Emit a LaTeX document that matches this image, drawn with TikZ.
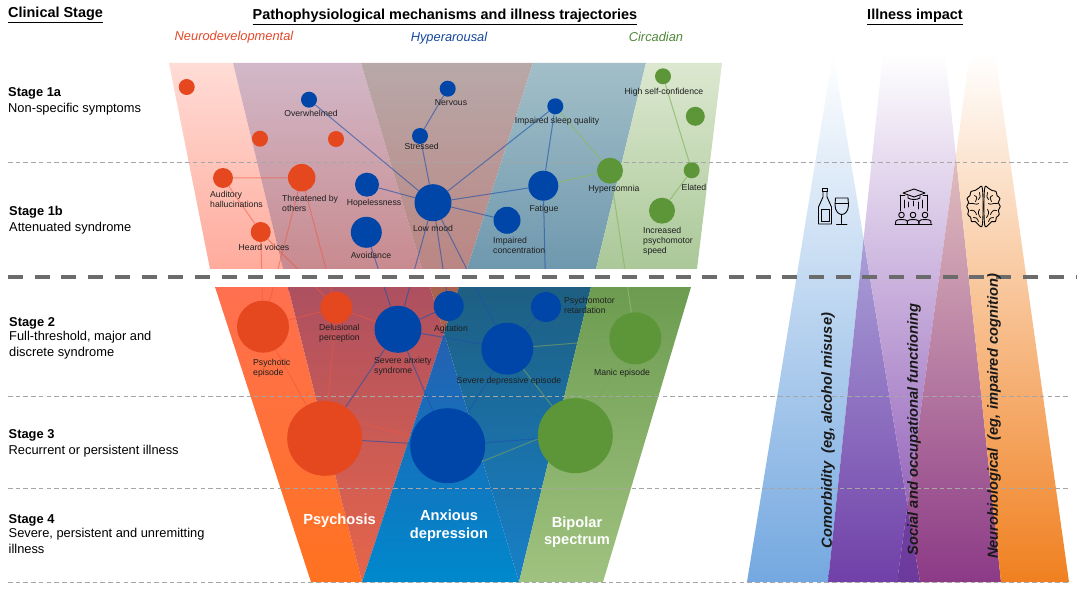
\documentclass[tikz,border=0pt]{standalone}
\usepackage{fontspec}
\setmainfont{Liberation Sans}
\definecolor{cR}{HTML}{E5471F}
\definecolor{cB}{HTML}{0046A8}
\definecolor{cG}{HTML}{5C9638}
\tikzset{
  dot/.style={circle,inner sep=0pt,draw=none},
  rdot/.style={dot,fill=cR},
  bdot/.style={dot,fill=cB},
  gdot/.style={dot,fill=cG},
  lab/.style={inner sep=0pt,text=black!88,font=\fontsize{8.7}{10}\selectfont},
  labl/.style={lab,anchor=west,align=left},
  stagehead/.style={inner sep=0pt,anchor=base west,font=\fontsize{12.9}{15}\selectfont\bfseries},
  stagetext/.style={inner sep=0pt,anchor=base west,font=\fontsize{12.9}{15.6}\selectfont,align=left},
  head/.style={inner sep=0pt,anchor=base,font=\fontsize{14.5}{16}\selectfont\bfseries},
  mech/.style={inner sep=0pt,font=\fontsize{12.9}{14}\selectfont\itshape},
  dis/.style={inner sep=0pt,text=white,align=center,font=\fontsize{14.7}{17.5}\selectfont\bfseries},
  imp/.style={inner sep=0pt,rotate=90,font=\fontsize{14.7}{16}\selectfont\bfseries\itshape,text=black!90},
  thin dash/.style={draw=black!35,line width=1bp,dash pattern=on 4.6bp off 3.1bp},
  thick dash/.style={draw=black!58,line width=3.6bp,dash pattern=on 15bp off 11.7bp},
  redge/.style={draw={rgb,255:red,238;green,88;blue,64},opacity=.55,line width=1bp},
  bedge/.style={draw={rgb,255:red,30;green,80;blue,170},opacity=.62,line width=1bp},
  gedge/.style={draw={rgb,255:red,140;green,185;blue,105},opacity=.8,line width=1bp},
  lgedge/.style={draw={rgb,255:red,125;green,165;blue,95},opacity=.6,line width=1bp},
  icon/.style={draw=black,line width=.9bp,line join=round,line cap=round},
  icon2/.style={draw=black,line width=.6bp,line cap=round},
}
\begin{document}
\begin{tikzpicture}[x=1bp,y=-1bp]
\useasboundingbox (0,0) rectangle (1084,592);
% upper band regions
\shade[top color={rgb,255:red,255;green,220;blue,214},bottom color={rgb,255:red,255;green,171;blue,156}] (169,63)--(233,63)--(283,269)--(210,269)--cycle;
\shade[top color={rgb,255:red,210;green,184;blue,200},bottom color={rgb,255:red,200;green,138;blue,143}] (233,63)--(361,63)--(422,269)--(283,269)--cycle;
\shade[top color={rgb,255:red,184;green,168;blue,168},bottom color={rgb,255:red,186;green,134;blue,131}] (361,63)--(533,63)--(467,269)--(422,269)--cycle;
\shade[top color={rgb,255:red,162;green,191;blue,200},bottom color={rgb,255:red,111;green,152;blue,174}] (533,63)--(646,63)--(596,269)--(467,269)--cycle;
\shade[top color={rgb,255:red,220;green,232;blue,208},bottom color={rgb,255:red,170;green,200;blue,152}] (646,63)--(722,63)--(697,269)--(596,269)--cycle;
% lower band regions
\shade[top color={rgb,255:red,255;green,112;blue,80},middle color={rgb,255:red,255;green,90;blue,46},bottom color={rgb,255:red,255;green,114;blue,32}] (215,287)--(288,287)--(362,582)--(311,582)--cycle;
\shade[top color={rgb,255:red,173;green,80;blue,96},middle color={rgb,255:red,206;green,76;blue,72},bottom color={rgb,255:red,230;green,101;blue,74}] (288,287)--(430,287)--(444,333)--(362,582)--cycle;
\fill[color={rgb,255:red,168;green,99;blue,79}] (430,287)--(459,287)--(444,333)--cycle;
\shade[top color={rgb,255:red,37;green,96;blue,176},bottom color={rgb,255:red,0;green,136;blue,204}] (444,333)--(519,582)--(362,582)--cycle;
\shade[top color={rgb,255:red,30;green,95;blue,130},middle color={rgb,255:red,30;green,95;blue,144},bottom color={rgb,255:red,23;green,128;blue,200}] (444,333)--(459,287)--(591,287)--(519,582)--cycle;
\shade[top color={rgb,255:red,108;green,156;blue,80},middle color={rgb,255:red,111;green,160;blue,85},bottom color={rgb,255:red,160;green,194;blue,128}] (591,287)--(691,287)--(603,582)--(519,582)--cycle;
% impact regions
\shade[top color=white,bottom color={rgb,255:red,116;green,168;blue,224}] (833,53)--(747,582)--(828,582)--(863.6,239)--cycle;
\shade[top color={rgb,255:red,170;green,160;blue,216},middle color={rgb,255:red,125;green,90;blue,180},bottom color={rgb,255:red,112;green,64;blue,168}] (863.6,239)--(828,582)--(897,582)--(907.5,506)--cycle;
\shade[top color={rgb,255:red,112;green,64;blue,160},bottom color={rgb,255:red,108;green,58;blue,156}] (907.5,506)--(897,582)--(920,582)--cycle;
\shade[top color=white,bottom color={rgb,255:red,151;green,103;blue,188}] (883,53)--(945,53)--(955.9,155.6)--(907.5,506)--(863.6,239)--cycle;
\shade[top color={rgb,255:red,225;green,190;blue,190},middle color={rgb,255:red,170;green,95;blue,140},bottom color={rgb,255:red,140;green,58;blue,134}] (955.9,155.6)--(907.5,506)--(920,582)--(1001,582)--cycle;
\shade[top color=white,bottom color={rgb,255:red,240;green,128;blue,32}] (970,53)--(995,53)--(1069,582)--(1001,582)--(955.9,155.6)--cycle;
% thin dashed rules
\coordinate (d1a) at (8,163); \coordinate (d1b) at (1070,163);
\coordinate (d2a) at (8,396); \coordinate (d2b) at (1070,396);
\coordinate (d3a) at (8,488); \coordinate (d3b) at (1070,488);
\coordinate (d4a) at (8,582); \coordinate (d4b) at (1070,582);
\draw[thin dash] (d1a)--(d1b);
\draw[thin dash] (d2a)--(d2b);
\draw[thin dash] (d3a)--(d3b);
\draw[thin dash] (d4a)--(d4b);
% circles
\node[rdot,minimum size=16bp] (r1) at (186.7,87) {};
\node[bdot,minimum size=16bp] (over) at (309,99.7) {};
\node[rdot,minimum size=16bp] (r2) at (260,138.7) {};
\node[rdot,minimum size=16bp] (r3) at (336,139) {};
\node[bdot,minimum size=16bp] (stress) at (420,136) {};
\node[bdot,minimum size=16bp] (nerv) at (447.7,88.7) {};
\node[rdot,minimum size=20bp] (aud) at (223,178) {};
\node[rdot,minimum size=27.5bp] (threat) at (301.7,177.7) {};
\node[bdot,minimum size=24bp] (hope) at (367,184.7) {};
\node[bdot,minimum size=31bp] (avoid) at (366.3,232.3) {};
\node[bdot,minimum size=37bp] (low) at (433,202.7) {};
\node[rdot,minimum size=20bp] (heard) at (260.7,232) {};
\node[bdot,minimum size=16bp] (sleep) at (555.3,106.3) {};
\node[gdot,minimum size=16bp] (high) at (663,76.3) {};
\node[gdot,minimum size=19bp] (g2) at (695.3,116.3) {};
\node[gdot,minimum size=26bp] (hyper) at (610,170.7) {};
\node[gdot,minimum size=16bp] (elated) at (691.7,170.3) {};
\node[bdot,minimum size=30bp] (fat) at (543.3,185.7) {};
\node[bdot,minimum size=27bp] (conc) at (507,220.3) {};
\node[gdot,minimum size=26bp] (incr) at (662,210.7) {};
\node[rdot,minimum size=52bp] (psyep) at (263,326.7) {};
\node[rdot,minimum size=32bp] (delus) at (336.3,307.7) {};
\node[bdot,minimum size=47bp] (anx) at (398,329.3) {};
\node[bdot,minimum size=30bp] (agit) at (448.7,306) {};
\node[bdot,minimum size=52bp] (dep) at (507.3,348.7) {};
\node[bdot,minimum size=30bp] (retard) at (546,307) {};
\node[gdot,minimum size=52bp] (manic) at (635.3,338.3) {};
\node[rdot,minimum size=75bp] (bigR) at (324.7,438.3) {};
\node[bdot,minimum size=75bp] (bigB) at (447.7,445.7) {};
\node[gdot,minimum size=75bp] (bigG) at (575.3,435.7) {};
% connectors, upper
\draw[redge] (aud)--(threat);
\draw[redge] (aud)--(heard);
\draw[redge] (heard)--(psyep);
\draw[redge] (heard)--(delus);
\draw[redge] (threat)--(psyep);
\draw[redge] (threat)--(delus);
\draw[bedge] (over)--(low);
\draw[bedge] (nerv)--(stress);
\draw[bedge] (stress)--(low);
\draw[bedge] (hope)--(low);
\draw[bedge] (low)--(sleep);
\draw[bedge] (low)--(fat);
\draw[bedge] (low)--(conc);
\draw[bedge] (sleep)--(fat);
\draw[bedge] (avoid)--(anx);
\draw[bedge] (low)--(anx);
\draw[bedge] (low)--(agit);
\draw[bedge] (low)--(dep);
\draw[bedge] (fat)--(retard);
\draw[gedge] (sleep)--(hyper);
\draw[gedge] (fat)--(hyper);
\draw[gedge] (hyper)--(manic);
\draw[gedge] (high)--(elated);
\draw[gedge] (elated)--(incr);
% connectors, lower
\draw[redge] (psyep)--(delus);
\draw[redge] (delus)--(anx);
\draw[redge] (psyep)--(bigR);
\draw[redge] (delus)--(bigR);
\draw[redge] (bigR.25)--(bigB.165);
\draw[bedge] (anx)--(agit);
\draw[bedge] (anx)--(dep);
\draw[bedge] (anx)--(bigR);
\draw[bedge] (anx)--(bigB);
\draw[bedge] (dep)--(retard);
\draw[bedge] (dep)--(bigB);
\draw[bedge] (bigR)--(bigB);
\draw[bedge] (bigB)--(bigG);
\draw[lgedge] (dep)--(manic);
\draw[lgedge] (dep)--(bigG);
\draw[lgedge] (manic)--(bigG);
\draw[lgedge] (bigB.-25)--(bigG.185);
% gap between the two bands
\fill[white] (200,269) rectangle (700,287);
\coordinate (ta) at (8,277); \coordinate (tb) at (1077,277);
\draw[thick dash] (ta)--(tb);
% node labels
\node[lab] (t1) at (311,113.5) {Overwhelmed};
\node[lab] (t2) at (421.7,146) {Stressed};
\node[lab] (t3) at (451,103) {Nervous};
\node[labl] (t4) at (210,199) {Auditory\\hallucinations};
\node[labl] (t5) at (282,203) {Threatened by\\others};
\node[lab] (t6) at (374,203) {Hopelessness};
\node[lab] (t7) at (264,247) {Heard voices};
\node[lab] (t8) at (371,255) {Avoidance};
\node[lab] (t9) at (433,228) {Low mood};
\node[lab] (t10) at (557,121) {Impaired sleep quality};
\node[lab] (t11) at (664,92) {High self-confidence};
\node[lab] (t12) at (614,189) {Hypersomnia};
\node[lab] (t13) at (694,187) {Elated};
\node[lab] (t14) at (544,209) {Fatigue};
\node[labl] (t15) at (493,245) {Impaired\\concentration};
\node[labl] (t16) at (643,241) {Increased\\psychomotor\\speed};
\node[labl] (t17) at (253,368.5) {Psychotic\\episode};
\node[labl] (t18) at (319,333.5) {Delusional\\perception};
\node[labl] (t19) at (374,366) {Severe anxiety\\syndrome};
\node[lab] (t20) at (451,329) {Agitation};
\node[lab] (t21) at (509,381) {Severe depressive episode};
\node[labl] (t22) at (564,305) {Psychomotor\\retardation};
\node[lab] (t23) at (622,373) {Manic episode};
% disorder labels
\node[dis] (psy) at (339.5,520.5) {Psychosis};
\node[dis] (anxd) at (449,525.5) {Anxious\\depression};
\node[dis] (bip) at (577,532) {Bipolar\\spectrum};
% left column
\node[head,anchor=base west] (h1) at (8,17.5) {\underline{Clinical Stage}};
\node[head] (h2) at (445,19.5) {\underline{Pathophysiological mechanisms and illness trajectories}};
\node[head] (h3) at (915,19.5) {\underline{Illness impact}};
\node[mech,text={rgb,255:red,226;green,72;blue,42}] (m1) at (234,37) {Neurodevelopmental};
\node[mech,text={rgb,255:red,20;green,70;blue,160}] (m2) at (449,38) {Hyperarousal};
\node[mech,text={rgb,255:red,80;green,135;blue,55}] (m3) at (656,37) {Circadian};
\node[stagehead] (s1) at (8,96.5) {Stage 1a};
\node[stagetext] (s1t) at (8,112.5) {Non-specific symptoms};
\node[stagehead] (s2) at (9,216) {Stage 1b};
\node[stagetext] (s2t) at (9,231.5) {Attenuated syndrome};
\node[stagehead] (s3) at (9,326.5) {Stage 2};
\node[stagetext,anchor=north west] (s3t) at (9,331) {Full-threshold, major and\\discrete syndrome};
\node[stagehead] (s4) at (8.5,438) {Stage 3};
\node[stagetext] (s4t) at (8.5,454.5) {Recurrent or persistent illness};
\node[stagehead] (s5) at (8.5,523) {Stage 4};
\node[stagetext,anchor=north west] (s5t) at (8.5,528) {Severe, persistent and unremitting\\illness};
% impact labels
\node[imp] (i1) at (828,430.5) {Comorbidity\ \ (eg, alcohol misuse)};
\node[imp] (i2) at (914,429.5) {Social and occupational functioning};
\node[imp] (i3) at (994,416.5) {Neurobiological\ \ (eg, impaired cognition)};
% bottle and glass
\draw[icon] (822.5,188)--(827.5,188)--(827.5,191)--(822.5,191)--cycle;
\draw[icon] (823,191)--(823,197)--(818.5,207)--(818.5,224)--(831.5,224)--(831.5,207)--(827,197)--(827,191);
\draw[icon] (821,209.5) rectangle (829,221);
\draw[icon] (835.5,198)--(848,198)--(848.5,205) .. controls (848.5,211) and (845,214.5) .. (841.8,214.5) .. controls (838.5,214.5) and (835,211) .. (835,205)--cycle;
\draw[icon,line width=.6bp] (835.2,203)--(848.4,203);
\draw[icon] (841.8,214.5)--(841.8,223.5);
\draw[icon] (836.5,224)--(847,224);
% graduates
\draw[icon] (914,189)--(925,193)--(914,197)--(903,193)--cycle;
\draw[icon] (908,195.5)--(908,198) .. controls (911,200) and (917,200) .. (920,198)--(920,195.5);
\draw[icon2] (900,195)--(900,211);
\draw[icon2] (927,195)--(927,211);
\draw[icon2] (900,195)--(905,195);
\draw[icon2] (923,195)--(927,195);
\draw[icon2] (904,200)--(904,208);
\draw[icon2] (908,202) -- (908,207);
\draw[icon2] (913,201) -- (913,206);
\draw[icon2] (918,202) -- (918,209);
\draw[icon2] (922,200) -- (922,208);
\draw[icon] (901.5,215) circle (2.8bp);
\draw[icon] (913,215) circle (2.8bp);
\draw[icon] (925,215) circle (2.8bp);
\draw[icon] (895.5,224)--(895.8,221) .. controls (896,219) and (907,219) .. (907.2,221)--(907.5,224);
\draw[icon] (907.2,224)--(907.4,221) .. controls (907.8,219) and (918.2,219) .. (918.6,221)--(918.8,224);
\draw[icon] (919,224)--(919.2,221) .. controls (919.5,219) and (930.5,219) .. (930.8,221)--(931,224);
\draw[icon] (895,224.3)--(932,224.3);
% brain
\foreach \sx in {1,-1}{
\begin{scope}[shift={(983.5,206.5)},xscale=\sx]
\draw[icon] plot[smooth cycle,tension=.7] coordinates {(-1,-17) (-5,-18.2) (-8.5,-16) (-12.5,-15) (-13.5,-11) (-16.5,-8) (-14.8,-4) (-16.8,0) (-14.8,4) (-15.8,8) (-12.8,11) (-12,15) (-8,15.2) (-5,18.2) (-1,17)};
\draw[icon,line width=.75bp] (-9,-11) .. controls (-6,-10) and (-6,-7) .. (-8,-5);
\draw[icon,line width=.75bp] (-14,-3) .. controls (-10,-4) and (-7,-1) .. (-5,-3);
\draw[icon,line width=.75bp] (-4,-14) .. controls (-3,-11) and (-3,-8) .. (-5,-7);
\draw[icon,line width=.75bp] (-13,4) .. controls (-10,3) and (-8,5) .. (-7,8);
\draw[icon,line width=.75bp] (-4,3) .. controls (-6,5) and (-5,9) .. (-3,11);
\draw[icon,line width=.75bp] (-10,11) .. controls (-8,10) and (-6,12) .. (-5,15);
\end{scope}}
\end{tikzpicture}
\end{document}
